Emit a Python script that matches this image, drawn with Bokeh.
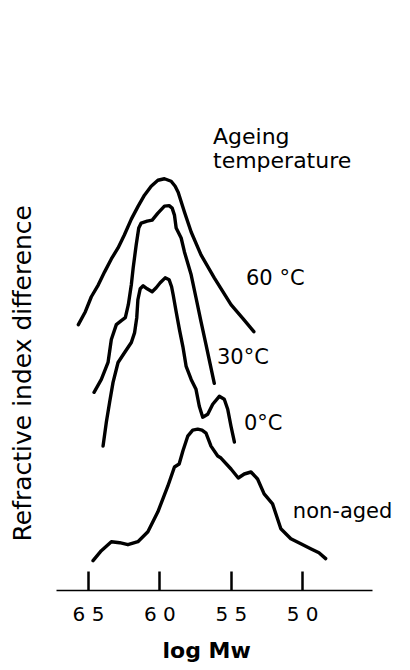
from bokeh.plotting import figure
from bokeh.models import Range1d, FixedTicker, Label, Title, LinearAxis
from bokeh.embed import file_html
from bokeh.resources import INLINE

# ---- data (x = log Mw as printed, y = relative units) ----
aged60_x = [65.71, 65.22, 64.80, 64.31, 63.87, 63.40, 62.93, 62.49, 62.00, 61.52, 61.08,
            60.61, 60.14, 59.68, 59.21, 58.93, 58.72, 58.28, 57.81, 57.12, 56.19, 55.02,
            54.18, 53.42]
aged60_y = [26.7, 28.0, 29.5, 30.7, 32.0, 33.3, 34.4, 35.7, 37.3, 38.6, 39.7,
            40.6, 41.2, 41.35, 41.1, 40.6, 40.0, 38.0, 36.0, 33.7, 31.4, 28.7,
            27.3, 26.0]

aged30_x = [64.61, 64.10, 63.63, 63.40, 63.05, 62.70, 62.42, 62.21, 62.00, 61.87, 61.66,
            61.48, 61.31, 60.89, 60.54, 60.14, 59.68, 59.35, 59.14, 58.98, 58.86, 58.51,
            58.28, 57.81, 57.47, 57.12, 56.77, 56.49, 56.19]
aged30_y = [19.9, 21.2, 22.9, 25.2, 26.7, 27.1, 27.4, 28.7, 30.7, 32.4, 34.7,
            36.4, 36.9, 37.1, 37.2, 37.9, 38.6, 38.65, 38.4, 37.7, 36.4, 35.4,
            34.0, 31.7, 29.4, 27.0, 24.7, 22.8, 20.8]

aged0_x = [63.98, 63.75, 63.52, 63.28, 62.93, 62.47, 62.00, 61.77, 61.62, 61.54, 61.38,
           61.17, 60.89, 60.54, 60.26, 59.98, 59.63, 59.35, 59.18, 59.07, 58.86, 58.63,
           58.39, 58.16, 57.81, 57.47, 57.24, 57.00, 56.65, 56.30, 55.84, 55.49, 55.25,
           55.02, 54.78]
aged0_y = [14.5, 16.9, 18.9, 20.9, 22.9, 23.9, 24.9, 25.9, 27.4, 29.2, 30.3,
           30.6, 30.3, 30.0, 30.4, 30.9, 31.4, 31.2, 30.5, 29.7, 28.0, 26.2,
           24.5, 22.5, 21.2, 20.2, 18.5, 17.4, 17.7, 18.7, 19.5, 19.2, 18.2,
           16.5, 14.9]

nonaged_x = [64.68, 64.10, 63.40, 62.82, 62.24, 61.54, 60.84, 60.14, 59.44, 58.98, 58.65,
             58.39, 58.05, 57.70, 57.35, 57.05, 56.77, 56.42, 55.95, 55.72, 55.02, 54.51,
             54.09, 53.62, 53.16, 52.70, 52.11, 51.53, 50.83, 50.13, 49.44, 48.86, 48.39]
nonaged_y = [3.0, 4.0, 4.9, 4.8, 4.6, 4.9, 5.9, 7.9, 10.5, 12.4, 12.7,
             14.0, 15.5, 16.1, 16.2, 16.1, 15.8, 14.5, 13.5, 13.3, 12.2, 11.3,
             11.7, 11.9, 11.2, 9.7, 8.7, 6.2, 5.2, 4.7, 4.2, 3.8, 3.2]

series_names = ["60 °C", "30°C", "0°C", "non-aged"]
tick_values = [65, 60, 55, 50]
tick_labels = ["6 5", "6 0", "5 5", "5 0"]

FONT = "DejaVu Sans"

p = figure(width=410, height=670, output_backend="svg", toolbar_location=None,
           title=None,
           x_range=Range1d(67.94, 42.80), y_range=Range1d(0, 47.2),
           min_border_left=45, min_border_right=5, min_border_top=120,
           min_border_bottom=78)
p.outline_line_color = None
p.grid.visible = False
p.background_fill_color = "white"
p.border_fill_color = "white"
p.yaxis.visible = False

for xs, ys in [(aged60_x, aged60_y), (aged30_x, aged30_y),
               (aged0_x, aged0_y), (nonaged_x, nonaged_y)]:
    p.line(xs, ys, line_color="black", line_width=3.4,
           line_join="round", line_cap="round")

# x axis (line limited to the drawn extent)
xa = p.xaxis[0]
xa.bounds = (45.10, 67.24)
xa.ticker = FixedTicker(ticks=tick_values)
xa.major_label_overrides = dict(zip(tick_values, tick_labels))
xa.minor_tick_line_color = None
xa.major_tick_in = 19
xa.major_tick_out = 0
xa.major_tick_line_width = 2.5
xa.major_tick_line_color = "black"
xa.axis_line_width = 1.6
xa.axis_line_color = "black"
xa.major_label_text_font = FONT
xa.major_label_text_font_size = "20px"
xa.major_label_text_color = "black"
xa.major_label_standoff = 11

# invisible spacer axis to push the axis title down a little
spacer = LinearAxis(ticker=FixedTicker(ticks=[]), axis_line_color=None,
                    major_tick_line_color=None, minor_tick_line_color=None,
                    major_tick_in=0, major_tick_out=10)
p.add_layout(spacer, "below")

# x axis title
xtitle = Title(text="log Mw", align="left", offset=116, standoff=15,
               text_font=FONT, text_font_size="22px", text_font_style="bold",
               text_color="black")
p.add_layout(xtitle, "below")

# vertical label on the left
ytitle = Title(text="Refractive index difference", align="left", offset=49,
               standoff=15, vertical_align="top", text_font=FONT, text_font_size="25px",
               text_font_style="normal", text_color="black")
p.add_layout(ytitle, "left")

# series labels
label_pos = [(53.97, 31.4), (56.0, 23.45), (54.11, 16.85), (50.69, 7.95)]
for name, (lx, ly) in zip(series_names, label_pos):
    p.add_layout(Label(x=lx, y=ly, text=name, text_font=FONT, text_font_size="21px",
                       text_align="left", text_baseline="middle", text_color="black"))

p.add_layout(Label(x=56.28, y=45.55, text="Ageing", text_font=FONT, text_font_size="22px",
                   text_align="left", text_baseline="middle", text_color="black"))
p.add_layout(Label(x=56.28, y=43.15, text="temperature", text_font=FONT, text_font_size="22px",
                   text_align="left", text_baseline="middle", text_color="black"))

open("out.html", "w").write(file_html(p, INLINE))
